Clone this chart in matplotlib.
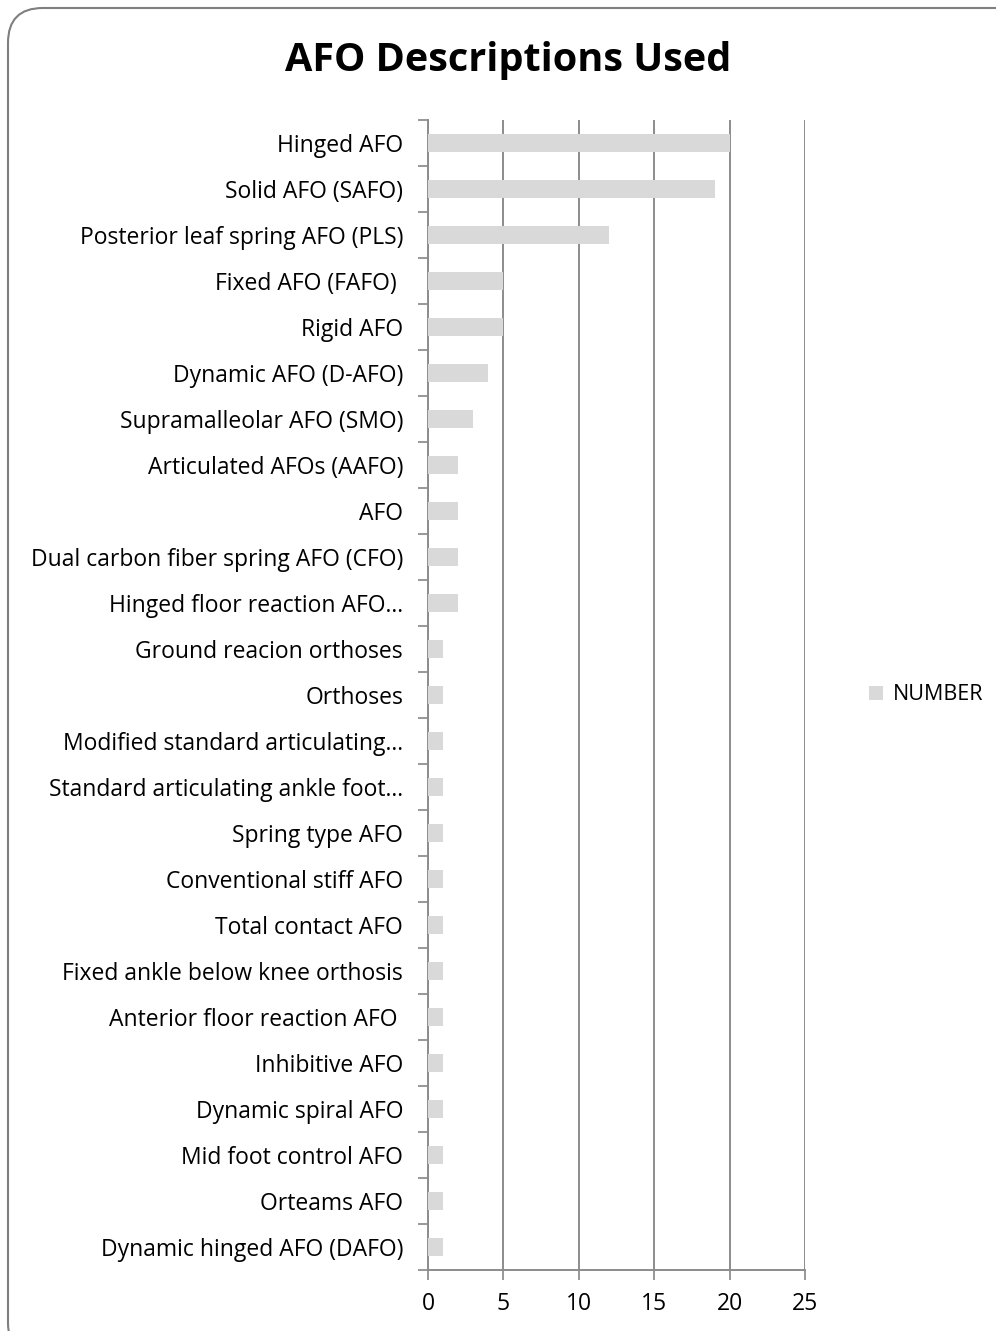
import matplotlib.pyplot as plt
from matplotlib.patches import FancyBboxPatch
import numpy as np

categories = [
    "Hinged AFO",
    "Solid AFO (SAFO)",
    "Posterior leaf spring AFO (PLS)",
    "Fixed AFO (FAFO) ",
    "Rigid AFO",
    "Dynamic AFO (D-AFO)",
    "Supramalleolar AFO (SMO)",
    "Articulated AFOs (AAFO)",
    "AFO",
    "Dual carbon fiber spring AFO (CFO)",
    "Hinged floor reaction AFO\u2026",
    "Ground reacion orthoses",
    "Orthoses",
    "Modified standard articulating\u2026",
    "Standard articulating ankle foot\u2026",
    "Spring type AFO",
    "Conventional stiff AFO",
    "Total contact AFO",
    "Fixed ankle below knee orthosis",
    "Anterior floor reaction AFO ",
    "Inhibitive AFO",
    "Dynamic spiral AFO",
    "Mid foot control AFO",
    "Orteams AFO",
    "Dynamic hinged AFO (DAFO)",
]
values = [20, 19, 12, 5, 5, 4, 3, 2, 2, 2, 2,
          1, 1, 1, 1, 1, 1, 1, 1, 1, 1, 1, 1, 1, 1]
xticks = [0, 5, 10, 15, 20, 25]

plt.rcParams['font.family'] = ['Open Sans', 'DejaVu Sans']

fig = plt.figure(figsize=(9.96, 13.31), dpi=100)

# rounded outer frame
frame = FancyBboxPatch((8 / 996, -0.02), 1.05, 1 - 8 / 1331 + 0.02,
                       boxstyle="round,pad=0,rounding_size=0.035",
                       transform=fig.transFigure, fill=False,
                       edgecolor='#7f7f7f', linewidth=1.5,
                       mutation_aspect=996 / 1331)
fig.patches.append(frame)

ax = fig.add_axes([428 / 996, 1 - 1270 / 1331, (805 - 428) / 996, (1270 - 120) / 1331])

y = np.arange(len(categories))
ax.barh(y, values, height=0.39, color='#d9d9d9', label='NUMBER', zorder=3)
ax.set_ylim(len(categories) - 0.5, -0.5)
ax.set_xlim(0, 25)

ax.set_xticks(xticks)
ax.set_yticks(y)
ax.set_yticklabels(categories, fontsize=16.5)
ax.set_yticks(np.arange(len(categories) + 1) - 0.5, minor=True)
ax.tick_params(axis='y', which='major', length=0, pad=18)
ax.tick_params(axis='y', which='minor', length=7, width=1.2, color='#868686', direction='out')
ax.tick_params(axis='x', length=7, width=1.2, color='#868686', labelsize=16.5, pad=9)

ax.grid(axis='x', color='#8c8c8c', linewidth=1.4, zorder=0)
for s in ['top', 'right']:
    ax.spines[s].set_visible(False)
for s in ['left', 'bottom']:
    ax.spines[s].set_color('#8c8c8c')
    ax.spines[s].set_linewidth(1.4)

fig.text(508 / 996, 1 - 61 / 1331, "AFO Descriptions Used", ha='center', va='center',
         fontsize=28.5, fontweight='bold')

fig.legend(loc='center left', bbox_to_anchor=(852 / 996, 1 - 695 / 1331), frameon=False,
           fontsize=15.5, handlelength=0.65, handleheight=0.65, handletextpad=0.45,
           borderpad=0.3)

fig.savefig('out.png', dpi=100)
